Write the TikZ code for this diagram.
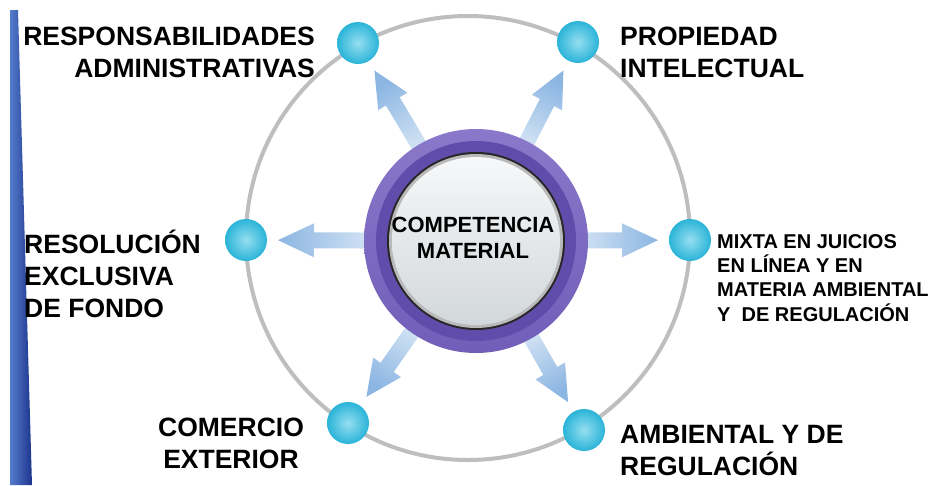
\documentclass[tikz,border=0pt]{standalone}
\usepackage{fontspec}
\setmainfont{Liberation Sans}
\usetikzlibrary{calc}

\definecolor{ringgray}{RGB}{188,190,192}
\definecolor{barblue}{RGB}{28,52,140}
\definecolor{barlight}{RGB}{85,125,205}
\definecolor{arrowtip}{RGB}{140,182,226}
\definecolor{arrowbase}{RGB}{222,234,247}
\definecolor{purplelight}{RGB}{138,120,202}
\definecolor{purplemid}{RGB}{112,94,185}
\definecolor{purpledark}{RGB}{96,76,170}
\definecolor{silvertop}{RGB}{246,248,249}
\definecolor{silverbottom}{RGB}{210,215,218}
\definecolor{dotcyan}{RGB}{42,180,216}
\definecolor{dotlight}{RGB}{150,222,240}

\tikzset{
  dot/.style={circle, minimum size=42pt, inner sep=0pt, inner color=dotlight, outer color=dotcyan},
  bigtext/.style={font=\bfseries\fontsize{26.5}{32}\selectfont, inner sep=0pt},
  smalltext/.style={font=\bfseries\fontsize{20}{24.3}\selectfont, inner sep=0pt},
  midtext/.style={font=\bfseries\fontsize{22}{26}\selectfont, inner sep=0pt},
  fatarrow/.style={top color=arrowtip, bottom color=arrowbase}
}

\begin{document}
\begin{tikzpicture}[x=1pt, y=-1pt]
  \useasboundingbox (0,0) rectangle (941,485);
  \shade[left color=barlight, right color=barblue] (10,10) -- (18,10) -- (32,485) -- (10,485) -- cycle;

  \coordinate (ring) at (468,238);
  \coordinate (mid) at (476,241);
  \draw[ringgray, line width=4pt] (ring) circle (222);

  \node[dot] (dresp) at (358,43) {};
  \node[dot] (dprop) at (578,42) {};
  \node[dot] (dresol) at (246,240) {};
  \node[dot] (dmixta) at (690,240) {};
  \node[dot] (dcomer) at (348,423) {};
  \node[dot] (dambi) at (584,430) {};

  \foreach \d/\sa in {dresp/31, dprop/-27.3, dresol/90, dmixta/-90, dcomer/145, dambi/209.6}{
    \coordinate (t) at ($(\d.center)!32pt!(mid)$);
    \coordinate (h) at ($(t)!36pt!(mid)$);
    \coordinate (s) at ($(mid)!90pt!(\d.center)$);
    \shade[fatarrow, shading angle=\sa] ($(s)!8pt!90:(t)$) -- ($(h)!8pt!90:(t)$) -- ($(h)!17pt!90:(t)$)
      -- (t) -- ($(h)!17pt!-90:(t)$) -- ($(h)!8pt!-90:(t)$) -- ($(s)!8pt!-90:(t)$) -- cycle;
  }

  \shade[top color=purplelight, bottom color=purplemid] (mid) circle (112);
  \fill[purpledark] (mid) circle (100);
  \fill[black!85] (mid) circle (89);
  \fill[gray!55] (mid) circle (87);
  \shade[top color=silvertop, bottom color=silverbottom] (mid) circle (84);
  \node[midtext, align=center, anchor=base] (comp) at (473,258) {COMPETENCIA\\MATERIAL};

  \node[bigtext, align=right, anchor=base east] (resp) at (315,77) {RESPONSABILIDADES\\ADMINISTRATIVAS};
  \node[bigtext, align=left, anchor=base west] (prop) at (620,77) {PROPIEDAD\\INTELECTUAL};
  \node[bigtext, align=left, anchor=base west] (resol) at (24,317) {RESOLUCIÓN\\EXCLUSIVA\\DE FONDO};
  \node[smalltext, align=left, anchor=base west] (mixta) at (717,321) {MIXTA EN JUICIOS\\EN LÍNEA Y EN\\MATERIA AMBIENTAL\\Y\ \ DE REGULACIÓN};
  \node[bigtext, align=center, anchor=base] (comer) at (231,468) {COMERCIO\\EXTERIOR};
  \node[bigtext, align=left, anchor=base west] (ambi) at (620,475) {AMBIENTAL Y DE\\REGULACIÓN};
\end{tikzpicture}
\end{document}
